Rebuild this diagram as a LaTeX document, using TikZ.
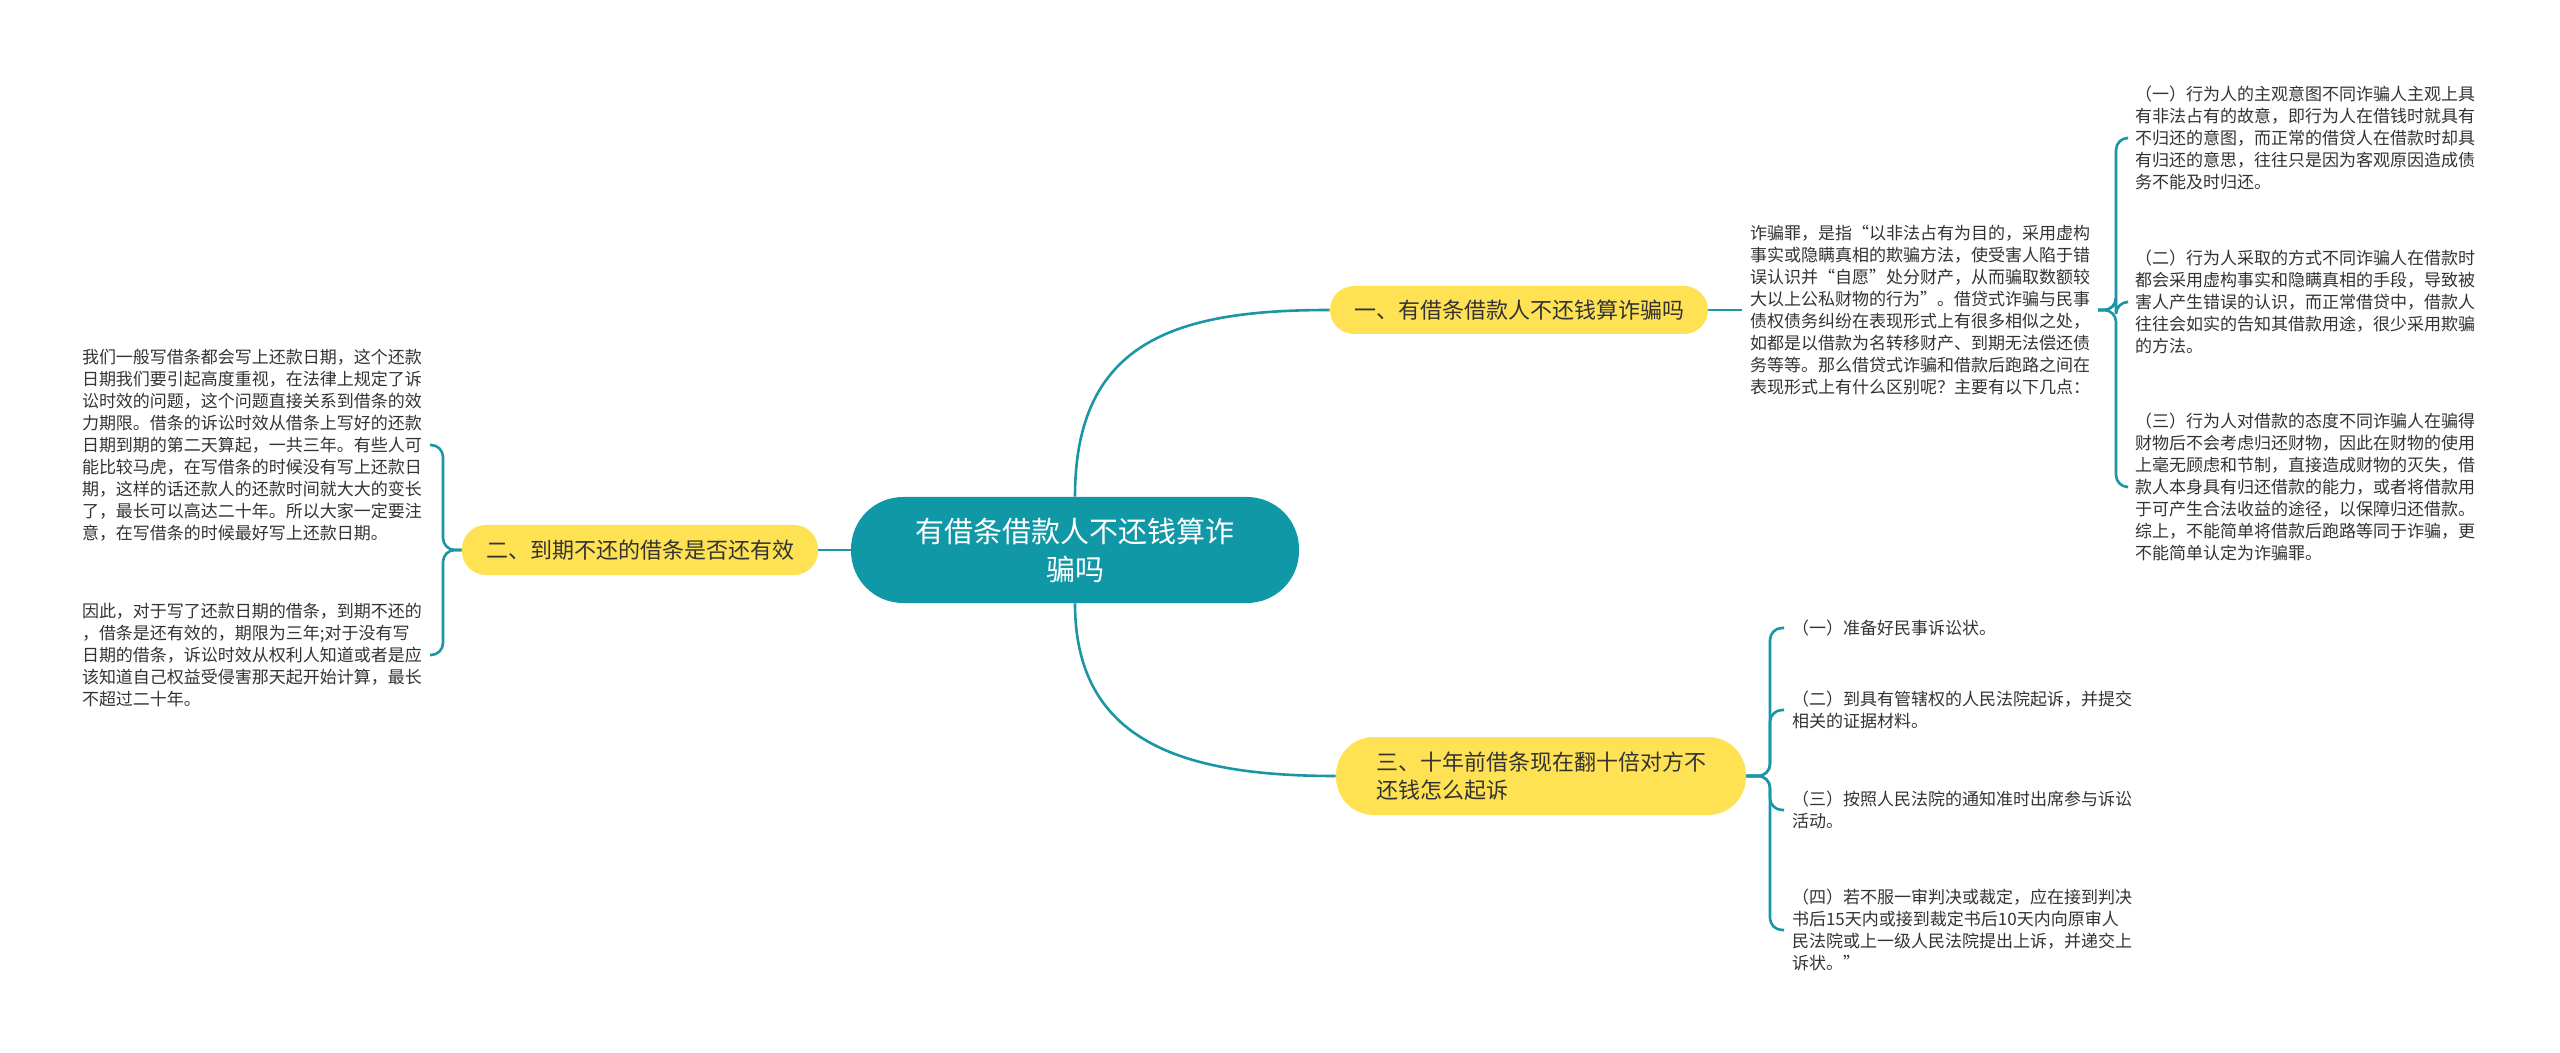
\documentclass[tikz,border=0pt]{standalone}
\usepackage{fontspec}
\usepackage{tikz}
\usetikzlibrary{positioning, calc}
\newfontfamily\cjk{Noto Sans CJK SC}
\definecolor{rootteal}{RGB}{17, 152, 166}
\definecolor{linkteal}{RGB}{26, 150, 164}
\definecolor{branchyellow}{RGB}{254, 226, 84}
\definecolor{inkgray}{RGB}{51, 51, 51}

\begin{document}
\begin{tikzpicture}[
    x=0.5pt, y=-0.5pt,
    rootnode/.style={
        rectangle, rounded corners=26pt,
        fill=rootteal, text=white,
        minimum width=224pt, minimum height=53pt, align=center,
        font=\cjk\fontsize{14.5pt}{19pt}\selectfont
    },
    branch/.style={
        rectangle, rounded corners=#1,
        fill=branchyellow, text=inkgray,
        inner xsep=12pt, align=left,
        font=\cjk\fontsize{11pt}{14pt}\selectfont
    },
    leaf/.style={
        anchor=west, inner sep=0pt, outer xsep=4pt,
        align=left, text=inkgray,
        font=\cjk\fontsize{8.5pt}{11pt}\selectfont
    },
    link/.style={draw=linkteal, line width=1.3pt, rounded corners=6pt}
]
\fill[white] (0,0) rectangle (2560,1053);
\useasboundingbox (0,0) rectangle (2560,1053);

% ==============================================================================
% CENTRE & MAIN BRANCHES
% ==============================================================================
\node[rootnode] (root) at (1075,550) {有借条借款人不还钱算诈\\骗吗};

\node[branch=12pt, minimum height=24pt] (b1) at (1519,310) {一、有借条借款人不还钱算诈骗吗};
\node[branch=12pt, minimum height=25pt] (b2) at (640,550) {二、到期不还的借条是否还有效};
\node[branch=19pt, minimum height=39pt, inner xsep=20pt] (b3) at (1541,776) {三、十年前借条现在翻十倍对方不\\还钱怎么起诉};

\draw[link] (root.north) .. controls +(0,-158) and +(-150,0) .. (b1.west);
\draw[link] (root.south) .. controls +(0,140) and +(-150,0) .. (b3.west);
\draw[link] (root.west) -- (b2.east);

% ==============================================================================
% BRANCH 1: FRAUD VS. ORDINARY LOAN
% ==============================================================================
\node[leaf] (t1) at (1742,310) {诈骗罪，是指“以非法占有为目的，采用虚构\\
事实或隐瞒真相的欺骗方法，使受害人陷于错\\
误认识并“自愿”处分财产，从而骗取数额较\\
大以上公私财物的行为”。借贷式诈骗与民事\\
债权债务纠纷在表现形式上有很多相似之处，\\
如都是以借款为名转移财产、到期无法偿还债\\
务等等。那么借贷式诈骗和借款后跑路之间在\\
表现形式上有什么区别呢？主要有以下几点：};

\node[leaf] (r1) at (2127,138) {（一）行为人的主观意图不同诈骗人主观上具\\
有非法占有的故意，即行为人在借钱时就具有\\
不归还的意图，而正常的借贷人在借款时却具\\
有归还的意思，往往只是因为客观原因造成债\\
务不能及时归还。};

\node[leaf] (r2) at (2127,302) {（二）行为人采取的方式不同诈骗人在借款时\\
都会采用虚构事实和隐瞒真相的手段，导致被\\
害人产生错误的认识，而正常借贷中，借款人\\
往往会如实的告知其借款用途，很少采用欺骗\\
的方法。};

\node[leaf] (r3) at (2127,487) {（三）行为人对借款的态度不同诈骗人在骗得\\
财物后不会考虑归还财物，因此在财物的使用\\
上毫无顾虑和节制，直接造成财物的灭失，借\\
款人本身具有归还借款的能力，或者将借款用\\
于可产生合法收益的途径，以保障归还借款。\\
综上，不能简单将借款后跑路等同于诈骗，更\\
不能简单认定为诈骗罪。};

\coordinate (t1fork) at (2116,310);
\draw[link] (b1.east) -- (t1.west);
\foreach \leafname in {r1,r2,r3}
    \draw[link] (t1.east) -- (t1fork) |- (\leafname.west);

% ==============================================================================
% BRANCH 2: VALIDITY OF AN OVERDUE IOU
% ==============================================================================
\node[leaf] (l1) at (74,445) {我们一般写借条都会写上还款日期，这个还款\\
日期我们要引起高度重视，在法律上规定了诉\\
讼时效的问题，这个问题直接关系到借条的效\\
力期限。借条的诉讼时效从借条上写好的还款\\
日期到期的第二天算起，一共三年。有些人可\\
能比较马虎，在写借条的时候没有写上还款日\\
期，这样的话还款人的还款时间就大大的变长\\
了，最长可以高达二十年。所以大家一定要注\\
意，在写借条的时候最好写上还款日期。};

\node[leaf] (l2) at (74,655) {因此，对于写了还款日期的借条，到期不还的\\
，借条是还有效的，期限为三年;对于没有写\\
日期的借条，诉讼时效从权利人知道或者是应\\
该知道自己权益受侵害那天起开始计算，最长\\
不超过二十年。};

\coordinate (b2fork) at (443,550);
\foreach \leafname in {l1,l2}
    \draw[link] (b2.west) -- (b2fork) |- (\leafname.east);

% ==============================================================================
% BRANCH 3: FILING THE LAWSUIT
% ==============================================================================
\node[leaf] (s1) at (1784,628) {（一）准备好民事诉讼状。};
\node[leaf] (s2) at (1784,710) {（二）到具有管辖权的人民法院起诉，并提交\\相关的证据材料。};
\node[leaf] (s3) at (1784,810) {（三）按照人民法院的通知准时出席参与诉讼\\活动。};
\node[leaf] (s4) at (1784,930) {（四）若不服一审判决或裁定，应在接到判决\\
书后15天内或接到裁定书后10天内向原审人\\
民法院或上一级人民法院提出上诉，并递交上\\
诉状。”};

\coordinate (b3fork) at (1770,776);
\foreach \leafname in {s1,s2,s3,s4}
    \draw[link] (b3.east) -- (b3fork) |- (\leafname.west);

\end{tikzpicture}
\end{document}
